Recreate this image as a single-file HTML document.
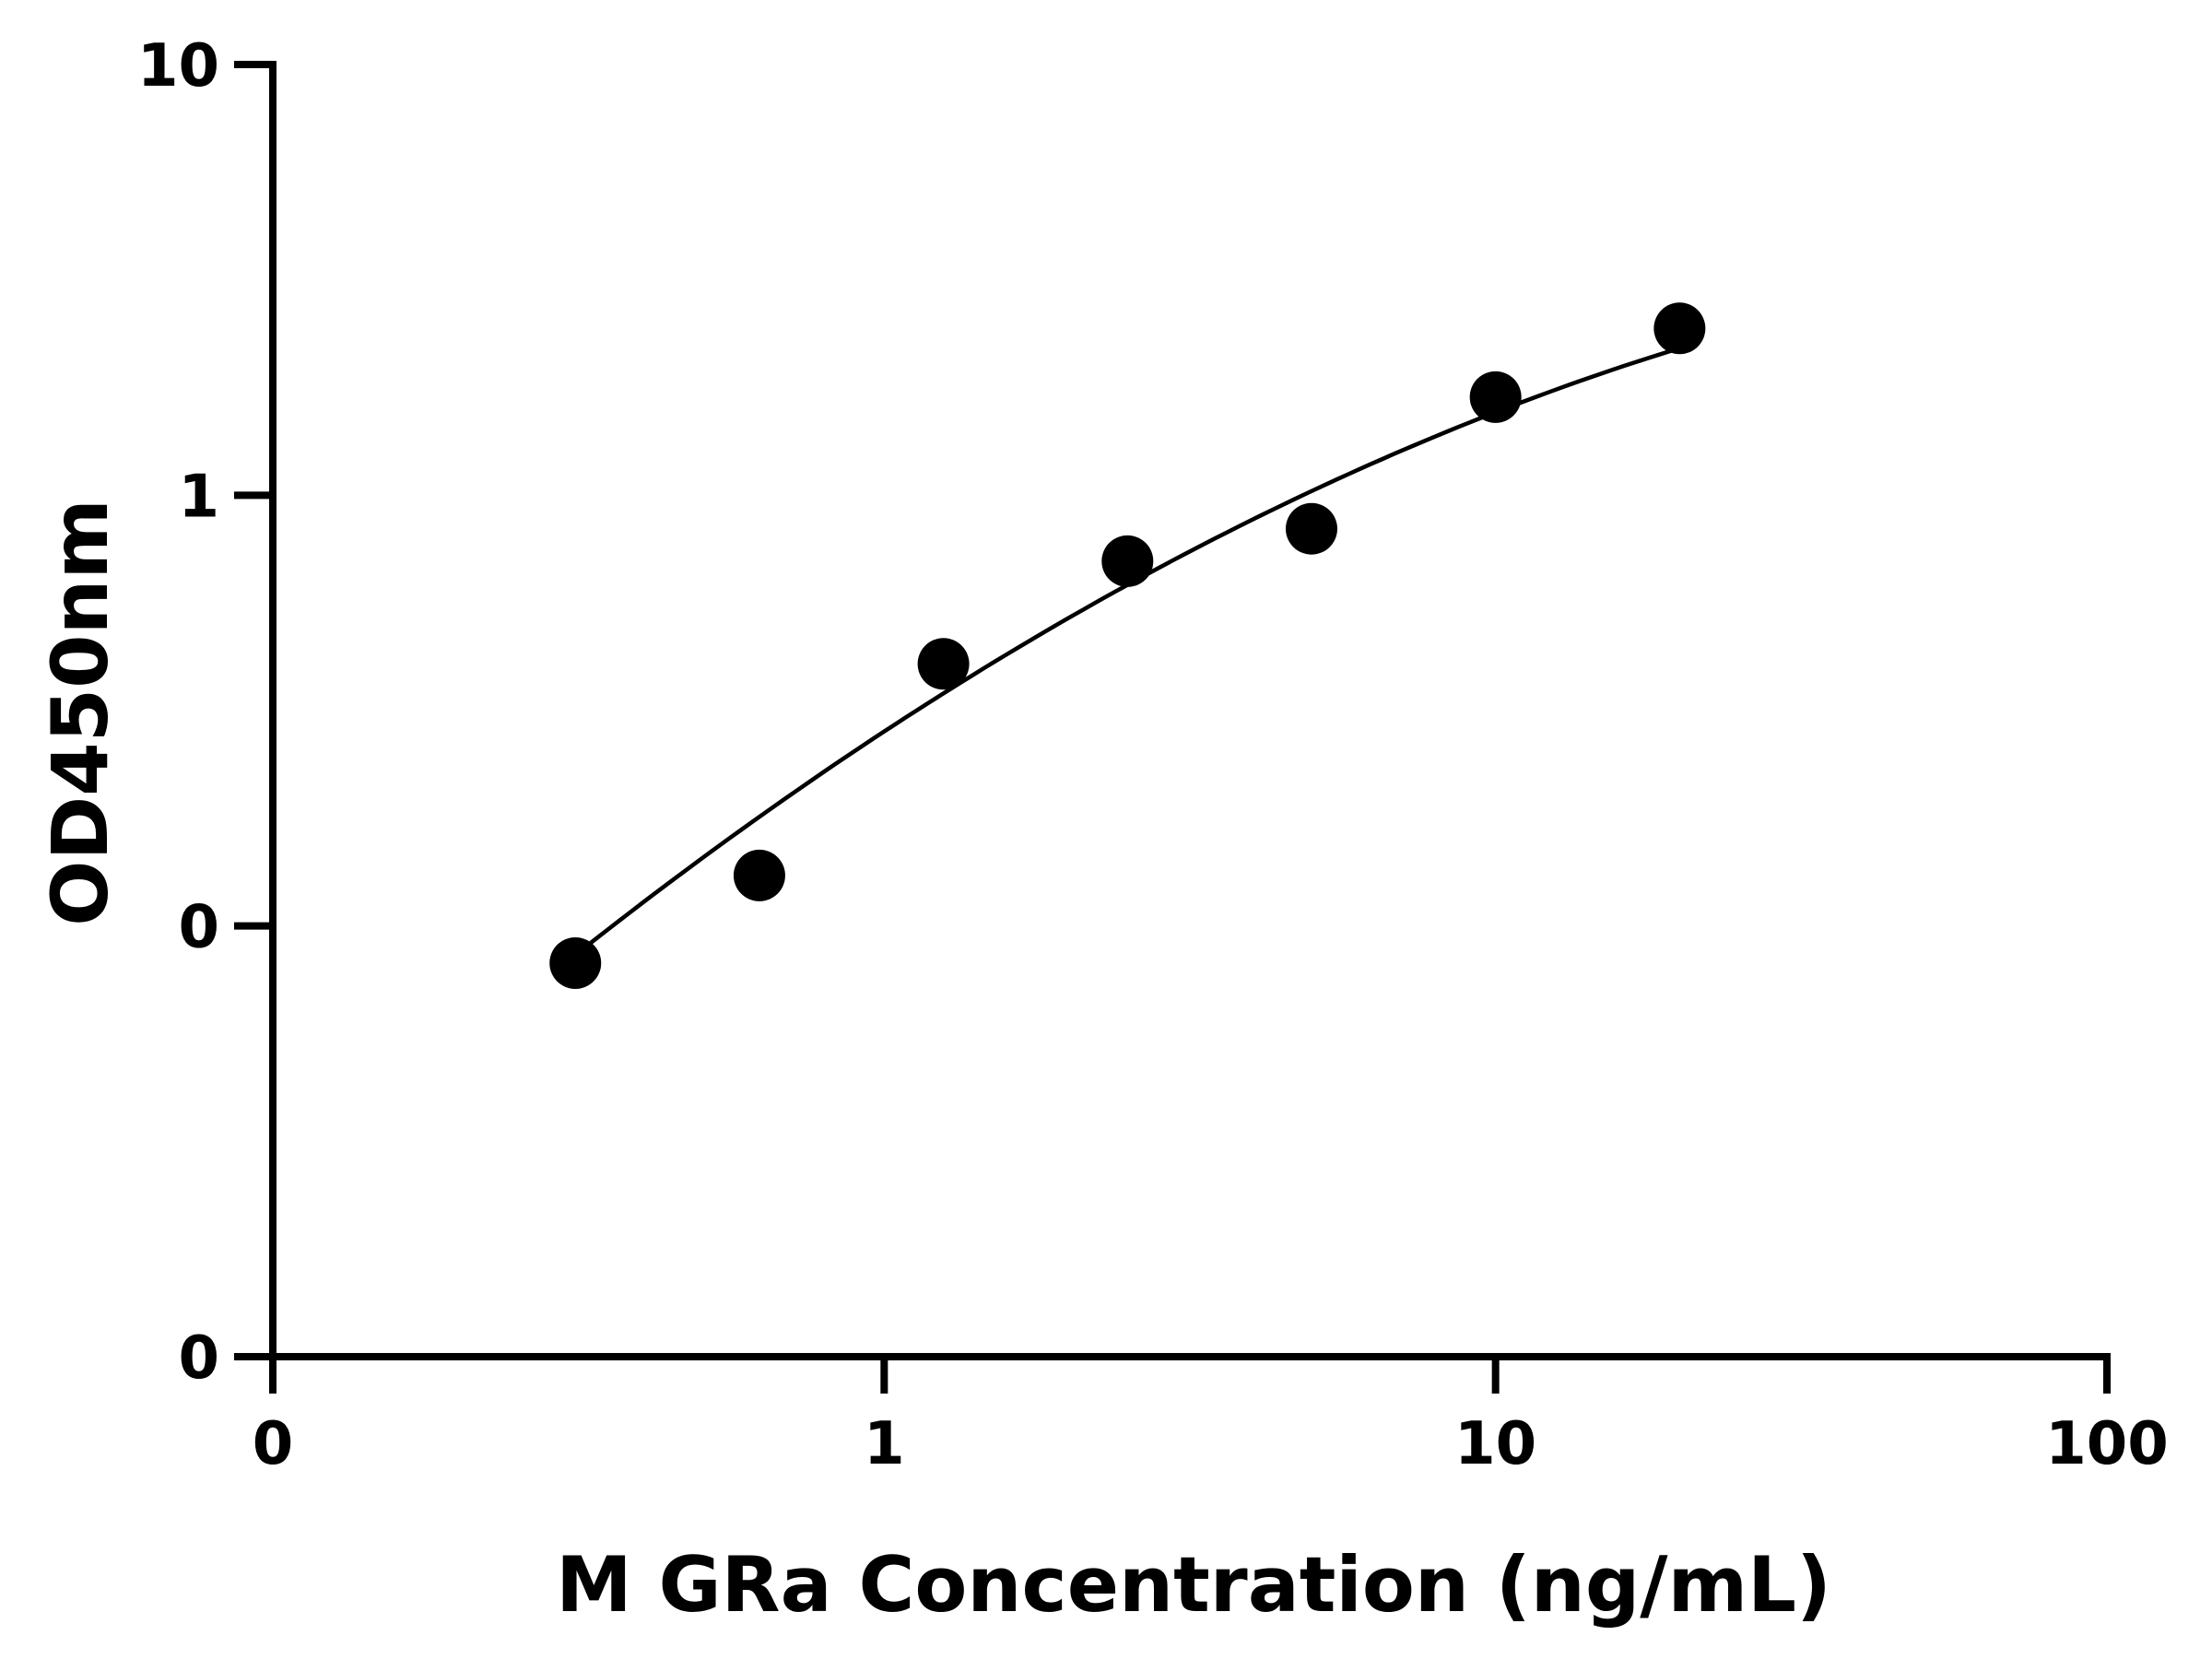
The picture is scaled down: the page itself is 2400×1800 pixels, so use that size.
<!DOCTYPE html>
<html>
<head>
<meta charset="utf-8">
<style>
html,body{margin:0;padding:0;background:#fff;}
svg{display:block;}
text{font-family:"DejaVu Sans","Liberation Sans",sans-serif;font-weight:bold;fill:#000;}
</style>
</head>
<body>
<svg id="chart" width="2400" height="1800" viewBox="0 0 2400 1800" xmlns="http://www.w3.org/2000/svg">
<g id="axes"></g>
<g id="curve"></g>
<g id="points"></g>
<text x="0" y="0" font-size="84" text-anchor="middle" transform="translate(116,773) rotate(-90)">OD450nm</text>
<text x="1295" y="1748" font-size="83" text-anchor="middle">M GRa Concentration (ng/mL)</text>
</svg>
<script>
const concentrations = [0.3125, 0.625, 1.25, 2.5, 5, 10, 20];
const odValues = [0.082, 0.131, 0.406, 0.703, 0.836, 1.69, 2.44];
const xTickValues = [0.1, 1, 10, 100];
const xTickLabels = ["0", "1", "10", "100"];
const yTickValues = [0.01, 0.1, 1, 10];
const yTickLabels = ["0", "0", "1", "10"];
const fitParams = [-0.208, 0.78, -0.19, 0.398]; // log-log quadratic: a, b, c, center

const NS = "http://www.w3.org/2000/svg";
const X0 = 296, X1 = 2286, Y0 = 1472, Y1 = 70;
const xMin = -1, xMax = 2, yMin = -2, yMax = 1;
function xs(v){ return X0 + (Math.log10(v) - xMin) / (xMax - xMin) * (X1 - X0); }
function ys(v){ return Y0 - (Math.log10(v) - yMin) / (yMax - yMin) * (Y0 - Y1); }
function mk(tag, attrs, parent){
  const e = document.createElementNS(NS, tag);
  for (const k in attrs) e.setAttribute(k, attrs[k]);
  parent.appendChild(e);
  return e;
}
const axes = document.getElementById("axes");
let e = mk("line", {x1:X0, y1:Y1-4, x2:X0, y2:Y0+4, stroke:"#000", "stroke-width":8}, axes);


e = mk("line", {x1:X0-4, y1:Y0, x2:X1+4, y2:Y0, stroke:"#000", "stroke-width":8}, axes);


xTickValues.forEach((v, i) => {
  const x = xs(v);
  let t = mk("line", {x1:x, y1:Y0, x2:x, y2:Y0+40, stroke:"#000", "stroke-width":8}, axes);
  
  
  let l = mk("text", {x:x, y:1588, "font-size":64, "text-anchor":"middle"}, axes);
  l.textContent = xTickLabels[i];
  
  
});
yTickValues.forEach((v, i) => {
  const y = ys(v);
  let t = mk("line", {x1:X0-42, y1:y, x2:X0, y2:y, stroke:"#000", "stroke-width":8}, axes);
  
  
  let l = mk("text", {x:238, y:y+23, "font-size":64, "text-anchor":"end"}, axes);
  l.textContent = yTickLabels[i];
  
  
});
const cg = document.getElementById("curve");
const uA = Math.log10(concentrations[0]), uB = Math.log10(concentrations[concentrations.length-1]);
let d = "";
for (let k = 0; k <= 100; k++){
  const u = uA + (uB - uA) * k / 100;
  const du = u - fitParams[3];
  const vv = fitParams[0] + fitParams[1]*du + fitParams[2]*du*du;
  const px = xs(Math.pow(10, u)), py = ys(Math.pow(10, vv));
  d += (k ? "L" : "M") + px.toFixed(1) + "," + py.toFixed(1);
}
const path = mk("path", {d:d, fill:"none", stroke:"#000", "stroke-width":4.5}, cg);


const pg = document.getElementById("points");
concentrations.forEach((c, i) => {
  const p = mk("circle", {cx:xs(c), cy:ys(odValues[i]), r:28, fill:"#000"}, pg);
  
  
});
</script>
</body>
</html>
